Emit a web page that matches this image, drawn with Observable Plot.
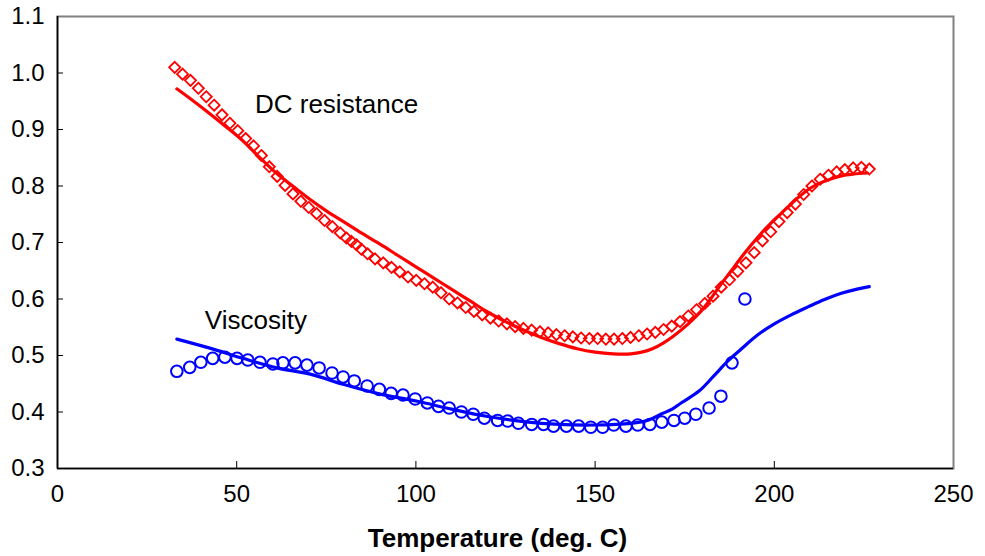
<!DOCTYPE html>
<html>
<head>
<meta charset="utf-8">
<script src="https://cdn.jsdelivr.net/npm/d3@7"></script>
<script src="https://cdn.jsdelivr.net/npm/@observablehq/plot@0.6"></script>
<style>
  html, body { margin: 0; padding: 0; background: #fff; }
</style>
</head>
<body>
<div id="chart"></div>
<script>
// Axis ticks
const xTicks = [0, 50, 100, 150, 200, 250];
const yTicks = [0.3, 0.4, 0.5, 0.6, 0.7, 0.8, 0.9, 1.0, 1.1];

// DC resistance, measured (diamonds)
const dcMarkT = [32.7,34.9,37.1,39.3,41.5,43.7,45.9,48.1,50.3,52.5,54.7,56.9,59.1,61.3,63.5,65.7,67.9,70.1,72.3,74.5,76.7,78.9,80.6,82.0,83.4,84.8,86.5,88.6,90.9,93.2,95.5,97.8,100.1,102.4,104.7,107.0,109.3,111.6,113.9,116.2,118.5,120.8,123.1,125.4,127.7,130.0,132.3,134.6,136.9,139.2,141.5,143.8,146.1,148.4,150.7,153.0,155.3,157.6,159.9,162.2,164.5,166.8,169.1,171.4,173.7,176.0,178.3,180.6,182.9,185.2,187.5,189.8,192.1,194.4,196.7,199.0,201.3,203.6,205.9,208.2,210.5,212.8,215.1,217.4,219.7,222.0,224.3,226.5];
const dcMarkV = [1.010,0.998,0.987,0.973,0.958,0.943,0.926,0.911,0.898,0.884,0.871,0.854,0.834,0.817,0.801,0.786,0.773,0.762,0.751,0.739,0.728,0.717,0.708,0.702,0.696,0.688,0.680,0.671,0.664,0.656,0.648,0.639,0.633,0.627,0.621,0.611,0.600,0.593,0.585,0.578,0.572,0.566,0.561,0.556,0.551,0.548,0.545,0.542,0.540,0.537,0.535,0.533,0.531,0.530,0.530,0.529,0.529,0.530,0.532,0.535,0.538,0.541,0.546,0.552,0.560,0.570,0.581,0.592,0.605,0.621,0.634,0.649,0.664,0.682,0.703,0.719,0.737,0.753,0.768,0.785,0.800,0.812,0.819,0.825,0.829,0.832,0.833,0.830];

// DC resistance, model (line)
const dcLineT = [33.3,38,42.5,47,51.7,56,61.2,66,70.5,75,80,85,90,95,100,105,110,115,120,125,130,135,140,145,150,155,160,163,166,169,172,176,179.5,182,185,188,190.7,193.5,196.3,199,202,205,207.5,210,213,216,218.7,222,226];
const dcLineV = [0.972,0.950,0.928,0.905,0.880,0.853,0.822,0.798,0.776,0.756,0.736,0.716,0.697,0.677,0.657,0.637,0.617,0.597,0.577,0.560,0.545,0.532,0.521,0.512,0.506,0.503,0.503,0.506,0.512,0.522,0.535,0.556,0.578,0.598,0.625,0.650,0.673,0.695,0.716,0.734,0.752,0.770,0.784,0.796,0.806,0.813,0.818,0.821,0.823];

// Viscosity, measured (circles)
const viscMarkT = [33.3,36.9,40.0,43.3,46.7,50.1,53.1,56.5,60.1,62.9,66.3,69.6,73.0,76.6,79.7,82.8,86.4,89.8,93.1,96.4,99.8,103.2,106.3,109.3,112.7,116.0,119.1,122.8,125.6,128.6,132.3,135.6,138.4,142.0,145.4,148.8,152.1,155.2,158.6,161.9,165.3,168.6,172.0,175.0,178.1,181.8,185.1,188.2,191.8];
const viscMarkV = [0.472,0.479,0.488,0.495,0.497,0.495,0.492,0.488,0.485,0.487,0.487,0.483,0.478,0.469,0.462,0.455,0.446,0.440,0.433,0.430,0.423,0.416,0.410,0.407,0.400,0.396,0.389,0.385,0.384,0.380,0.378,0.378,0.375,0.375,0.375,0.373,0.373,0.377,0.375,0.377,0.378,0.382,0.385,0.389,0.396,0.407,0.428,0.487,0.600];

// Viscosity, model (line)
const viscLineT = [33.3,42.5,51.7,61.2,70.5,79.7,89.2,100.4,110,120,130,140,150,160,165,168.3,171.5,174,179,183,187,190.7,195.5,200,204.7,209.4,214,218.7,223.4,226.5];
const viscLineV = [0.529,0.513,0.495,0.478,0.467,0.449,0.433,0.419,0.405,0.392,0.383,0.378,0.377,0.380,0.386,0.396,0.405,0.416,0.437,0.463,0.490,0.511,0.537,0.556,0.572,0.586,0.599,0.610,0.618,0.622];

// Annotations
const noteLabels = ["DC resistance", "Viscosity"];
const noteT = [55.1, 41.1];
const noteV = [0.944, 0.561];
const xLabel = "Temperature (deg. C)";

const dcMarks = dcMarkT.map((t, i) => ({t, v: dcMarkV[i]}));
const dcLine = dcLineT.map((t, i) => ({t, v: dcLineV[i]}));
const viscMarks = viscMarkT.map((t, i) => ({t, v: viscMarkV[i]}));
const viscLine = viscLineT.map((t, i) => ({t, v: viscLineV[i]}));
const notes = noteLabels.map((label, i) => ({label, t: noteT[i], v: noteV[i]}));

const W = 985, H = 556;
const mL = 57, mR = 32, mT = 16, mB = 88;
const innerW = W - mL - mR, innerH = H - mT - mB;

const chart = Plot.plot({
  width: W,
  height: H,
  marginLeft: mL,
  marginRight: mR,
  marginTop: mT,
  marginBottom: mB,
  style: {fontFamily: "Arial, 'Liberation Sans', sans-serif", fontSize: "24px", background: "#fff", color: "#000"},
  x: {domain: [0, 250]},
  y: {domain: [0.3, 1.1]},
  marks: [
    Plot.axisX(xTicks, {tickSize: 0, tickPadding: 16, label: null, tickFormat: d => String(d), fontSize: 24}),
    Plot.axisY(yTicks, {tickSize: 0, tickPadding: 13, label: null, tickFormat: d => d.toFixed(1), fontSize: 24}),
    Plot.frame({stroke: "#808080", strokeWidth: 2}),
    Plot.ruleX([0], {stroke: "#000", strokeWidth: 1.6}),
    Plot.ruleY([0.3], {stroke: "#000", strokeWidth: 1.6}),
    Plot.tickX(xTicks.slice(1, -1), {x: d => d, insetTop: innerH - 7, stroke: "#000", strokeWidth: 1}),
    Plot.tickY(yTicks.slice(1, -1), {y: d => d, insetRight: innerW - 6, stroke: "#000", strokeWidth: 1}),
    Plot.line(dcLine, {x: "t", y: "v", stroke: "#ff0000", strokeWidth: 3.2, curve: "catmull-rom"}),
    Plot.line(viscLine, {x: "t", y: "v", stroke: "#0000ff", strokeWidth: 3.2, curve: "catmull-rom"}),
    Plot.dot(dcMarks, {x: "t", y: "v", symbol: "diamond2", r: 5, stroke: "#ff0000", strokeWidth: 1.8, fill: "none"}),
    Plot.dot(viscMarks, {x: "t", y: "v", symbol: "circle", r: 5.8, stroke: "#0000ff", strokeWidth: 2, fill: "none"}),
    Plot.text(notes, {x: "t", y: "v", text: "label", textAnchor: "start", fontSize: 26, fill: "#000"}),
    Plot.text([xLabel], {frameAnchor: "bottom", dy: 78, dx: -8, fontWeight: "bold", fontSize: 26, fill: "#000"})
  ]
});
document.getElementById("chart").appendChild(chart);
</script>
</body>
</html>
